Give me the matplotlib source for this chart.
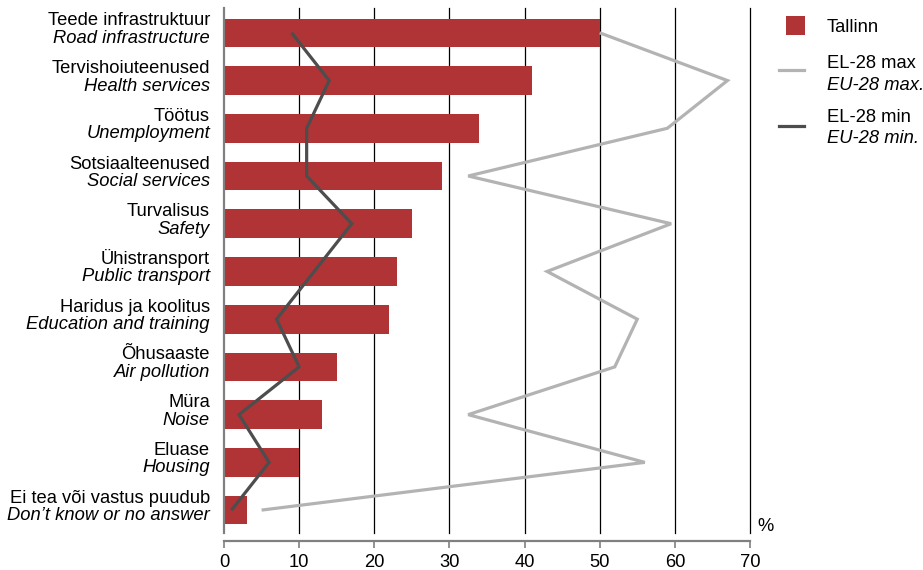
import numpy as np
import matplotlib
matplotlib.use("Agg")
import matplotlib.pyplot as plt
from matplotlib.transforms import ScaledTranslation, blended_transform_factory
from matplotlib.patches import Rectangle
from matplotlib.lines import Line2D

plt.rcParams['font.family'] = ['Liberation Sans', 'DejaVu Sans']

# Problem areas: Estonian name (first line) and English name (second line)
labels_et = ["Teede infrastruktuur", "Tervishoiuteenused", "Töötus", "Sotsiaalteenused",
             "Turvalisus", "Ühistransport", "Haridus ja koolitus", "Õhusaaste",
             "Müra", "Eluase", "Ei tea või vastus puudub"]
labels_en = ["Road infrastructure", "Health services", "Unemployment", "Social services",
             "Safety", "Public transport", "Education and training", "Air pollution",
             "Noise", "Housing", "Don’t know or no answer"]

# Share of respondents, %
tallinn = [50, 41, 34, 29, 25, 23, 22, 15, 13, 10, 3]
eu_max = [50, 67, 59, 32.5, 59.5, 43, 55, 52, 32.5, 56, 5]
eu_min = [9, 14, 11, 11, 17, 12, 7, 10, 2, 6, 1]

xticks = [0, 10, 20, 30, 40, 50, 60, 70]

RED = "#b03335"
LIGHT = "#b3b3b3"
DARK = "#4d4d4d"
AXIS_GREY = "#808080"
FS = 13.2

W, H = 923, 570
fig = plt.figure(figsize=(W / 100, H / 100), dpi=100)
ax = fig.add_axes([224 / W, 1 - 533 / H, (750 - 224) / W, (533 - 8) / H])

y = np.arange(len(tallinn))
ax.barh(y, tallinn, height=0.6, color=RED, zorder=2)
ax.plot(eu_max, y, color=LIGHT, lw=2.3, solid_joinstyle='miter', solid_capstyle='butt', zorder=3)
ax.plot(eu_min, y, color=DARK, lw=2.3, solid_joinstyle='miter', solid_capstyle='butt', zorder=4)

ax.set_xlim(xticks[0], xticks[-1])
ax.set_ylim(len(tallinn) - 0.52, -0.52)

for v in xticks[1:]:
    ax.axvline(v, color="black", lw=0.9, zorder=1, clip_on=False)

for s in ["top", "right"]:
    ax.spines[s].set_visible(False)
ax.spines["left"].set_color(AXIS_GREY)
ax.spines["left"].set_linewidth(1.6)
ax.spines["bottom"].set_color(AXIS_GREY)
ax.spines["bottom"].set_linewidth(1.6)
ax.spines["bottom"].set_position(("outward", 5.8))

ax.set_xticks(xticks)
ax.set_xticklabels([str(v) for v in xticks])
ax.tick_params(axis="x", direction="out", length=5, width=1.2, color=AXIS_GREY,
               labelsize=FS, pad=4.5)
ax.set_yticks([])

# Two-line category labels: Estonian upright, English italic
base = blended_transform_factory(ax.transAxes, ax.transData)
for i, (et, en) in enumerate(zip(labels_et, labels_en)):
    t1 = base + ScaledTranslation(-0.14, 0.075, fig.dpi_scale_trans)
    t2 = base + ScaledTranslation(-0.14, -0.10, fig.dpi_scale_trans)
    ax.text(0, i, et, transform=t1, ha="right", va="baseline", fontsize=FS, color="black")
    ax.text(0, i, en, transform=t2, ha="right", va="baseline", fontsize=FS,
            style="italic", color="black")

ax.text(757 / W, 1 - 531 / H, "%", transform=fig.transFigure, ha="left", va="baseline",
        fontsize=FS)

# Legend
fig.add_artist(Rectangle((786 / W, 1 - 35 / H), 19 / W, 19 / H, transform=fig.transFigure,
                         facecolor=RED, edgecolor="none"))
fig.add_artist(Line2D([779 / W, 804 / W], [1 - 70 / H, 1 - 70 / H], transform=fig.transFigure,
                      color=LIGHT, lw=2.3))
fig.add_artist(Line2D([779 / W, 804 / W], [1 - 126 / H, 1 - 126 / H], transform=fig.transFigure,
                      color=DARK, lw=2.3))
legend_text = [("Tallinn", 31.5, "normal"),
               ("EL-28 max", 67.5, "normal"), ("EU-28 max.", 90, "italic"),
               ("EL-28 min", 121.5, "normal"), ("EU-28 min.", 143, "italic")]
for txt, yb, st in legend_text:
    fig.text(827 / W, 1 - yb / H, txt, ha="left", va="baseline", fontsize=FS, style=st)

fig.savefig("out.png", dpi=100)
